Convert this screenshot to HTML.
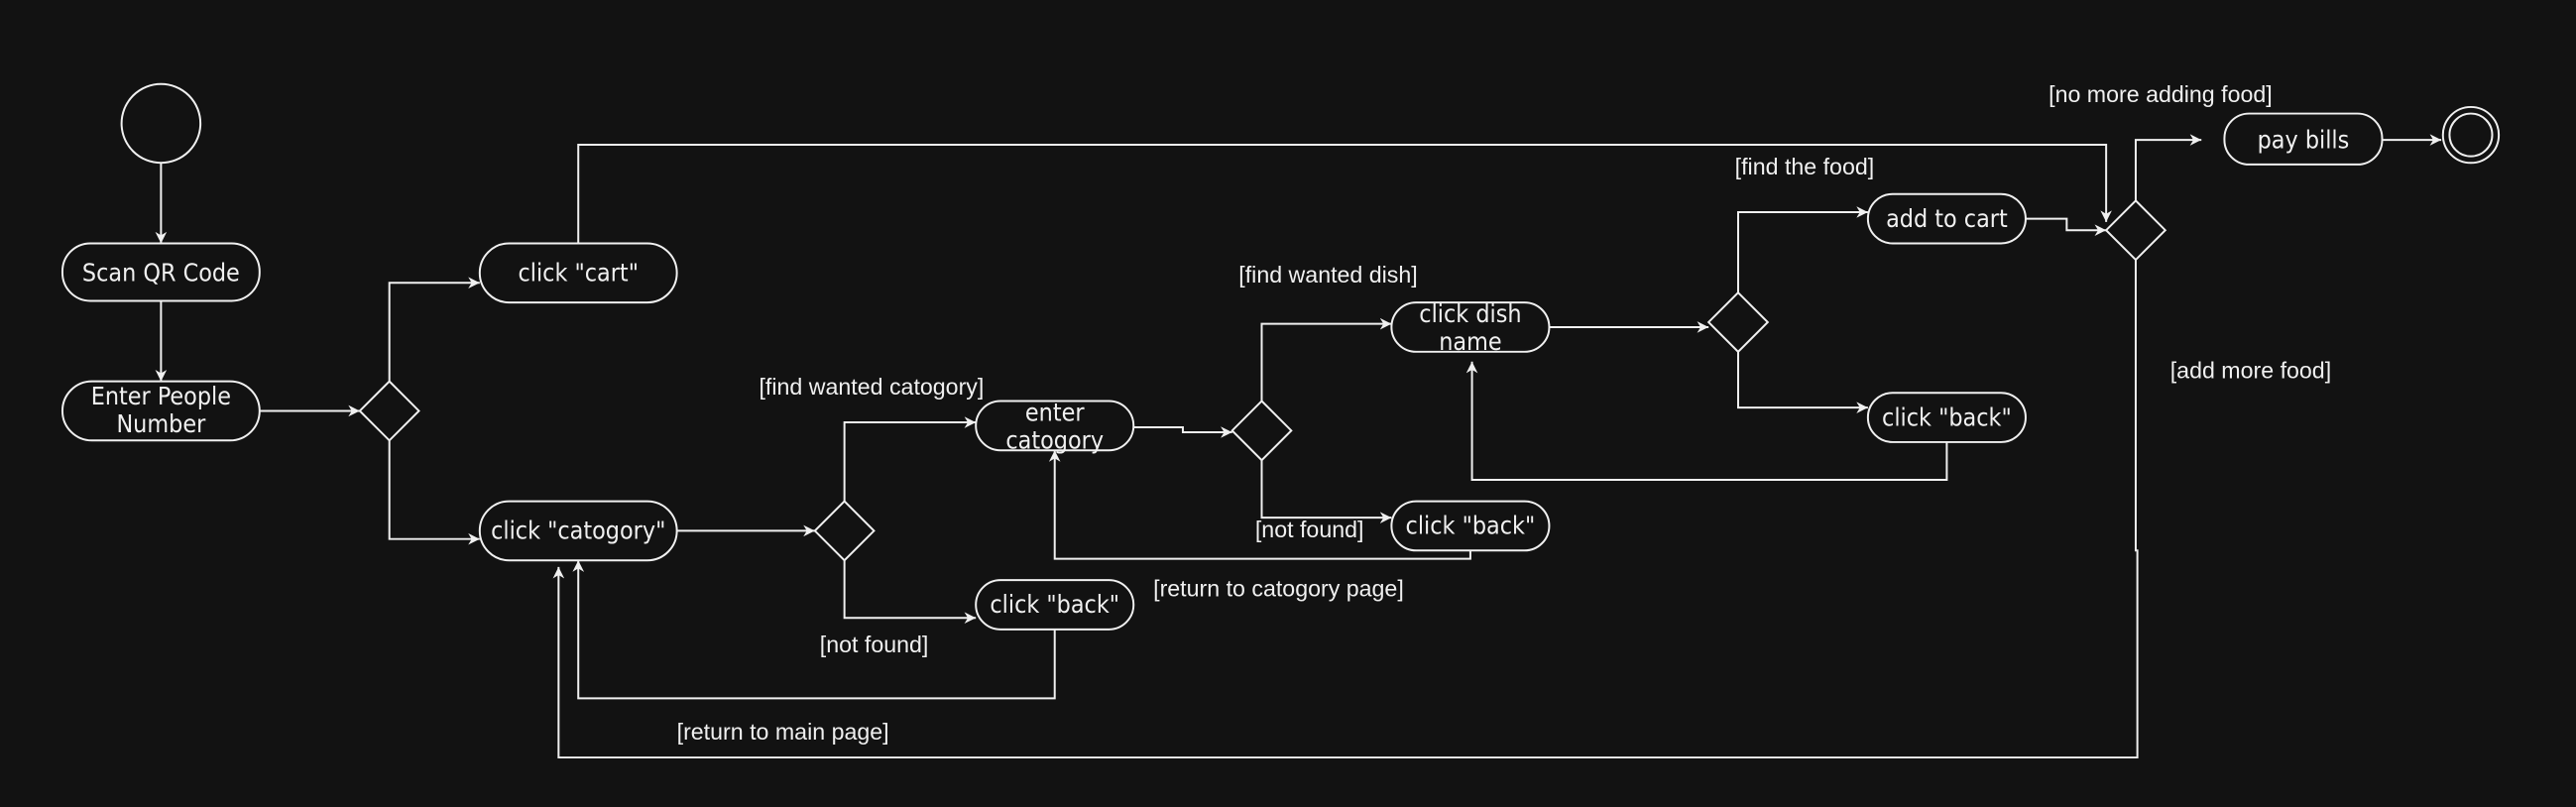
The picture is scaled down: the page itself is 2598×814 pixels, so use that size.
<!DOCTYPE html>
<html><head><meta charset="utf-8">
<style>
html,body{margin:0;padding:0;background:#121212;}
svg{display:block;}
text{font-family:"Liberation Sans",sans-serif;fill:#f0f0f0;}
.n text{font-family:"DejaVu Sans Condensed","Liberation Sans",sans-serif;}
</style></head>
<body>
<svg width="2598" height="814" viewBox="0 0 1568 491" xmlns="http://www.w3.org/2000/svg">
<defs>
<marker id="a" viewBox="0 0 10 10" refX="10" refY="5" markerWidth="7" markerHeight="7" orient="auto" markerUnits="userSpaceOnUse">
<path d="M0,0 L10,5 L0,10 L3,5 z" fill="#f0f0f0"/>
</marker>
</defs>
<rect width="1568" height="491" fill="#121212"/>
<g fill="none" stroke="#f0f0f0" stroke-width="1.2">
<circle cx="98" cy="75" r="24"/>
<rect x="38" y="148" width="120" height="35" rx="17"/>
<rect x="38" y="232" width="120" height="36" rx="18"/>
<rect x="292" y="148" width="120" height="36" rx="18"/>
<rect x="292" y="305" width="120" height="36" rx="18"/>
<rect x="594" y="244" width="96" height="30" rx="15"/>
<rect x="594" y="353" width="96" height="30" rx="15"/>
<rect x="847" y="184" width="96" height="30" rx="15"/>
<rect x="847" y="305" width="96" height="30" rx="15"/>
<rect x="1137" y="118" width="96" height="30" rx="15"/>
<rect x="1137" y="239" width="96" height="30" rx="15"/>
<rect x="1354" y="69" width="96" height="31" rx="15"/>
<circle cx="1504" cy="82" r="17"/>
<circle cx="1504" cy="82" r="13"/>
<path d="M237,232 L255,250 L237,268 L219,250 Z"/>
<path d="M514,305 L532,323 L514,341 L496,323 Z"/>
<path d="M768,244 L786,262 L768,280 L750,262 Z"/>
<path d="M1058,178 L1076,196 L1058,214 L1040,196 Z"/>
<path d="M1300,122 L1318,140 L1300,158 L1282,140 Z"/>
</g>
<g fill="none" stroke="#f0f0f0" stroke-width="1.2" marker-end="url(#a)">
<path d="M98,99 V148"/>
<path d="M98,183 V232"/>
<path d="M158,250 H219"/>
<path d="M237,232 V172 H292"/>
<path d="M237,268 V328 H292"/>
<path d="M352,148 V88 H1282 V135"/>
<path d="M412,323 H496"/>
<path d="M514,305 V257 H594"/>
<path d="M514,341 V376 H594"/>
<path d="M642,383 V425 H352 V341"/>
<path d="M690,260 H720 V263 H750"/>
<path d="M768,244 V197 H847"/>
<path d="M768,280 V315 H847"/>
<path d="M895,335 V340 H642 V274"/>
<path d="M943,199 H1040"/>
<path d="M1058,178 V129 H1137"/>
<path d="M1058,214 V248 H1137"/>
<path d="M1185,269 V292 H896 V220"/>
<path d="M1233,133 H1258 V140 H1282"/>
<path d="M1300,122 V85 H1340"/>
<path d="M1450,85 H1486"/>
<path d="M1300,158 V335 H1301 V461 H340 V345"/>
</g>
<g class="n" font-size="15" text-anchor="middle">
<text x="98" y="171">Scan QR Code</text>
<text x="98" y="246">Enter People</text>
<text x="98" y="263">Number</text>
<text x="352" y="171">click "cart"</text>
<text x="352" y="328">click "catogory"</text>
<text x="642" y="256">enter</text>
<text x="642" y="273">catogory</text>
<text x="642" y="373">click "back"</text>
<text x="895" y="196">click dish</text>
<text x="895" y="213">name</text>
<text x="895" y="325">click "back"</text>
<text x="1185" y="138">add to cart</text>
<text x="1185" y="259">click "back"</text>
<text x="1402" y="90">pay bills</text>
</g>
<g font-size="14">
<text x="1247" y="62">[no more adding food]</text>
<text x="1056" y="106">[find the food]</text>
<text x="754" y="172">[find wanted dish]</text>
<text x="1321" y="230">[add more food]</text>
<text x="462" y="240">[find wanted catogory]</text>
<text x="764" y="327">[not found]</text>
<text x="702" y="363">[return to catogory page]</text>
<text x="499" y="397">[not found]</text>
<text x="412" y="450">[return to main page]</text>
</g>
</svg>
</body></html>
